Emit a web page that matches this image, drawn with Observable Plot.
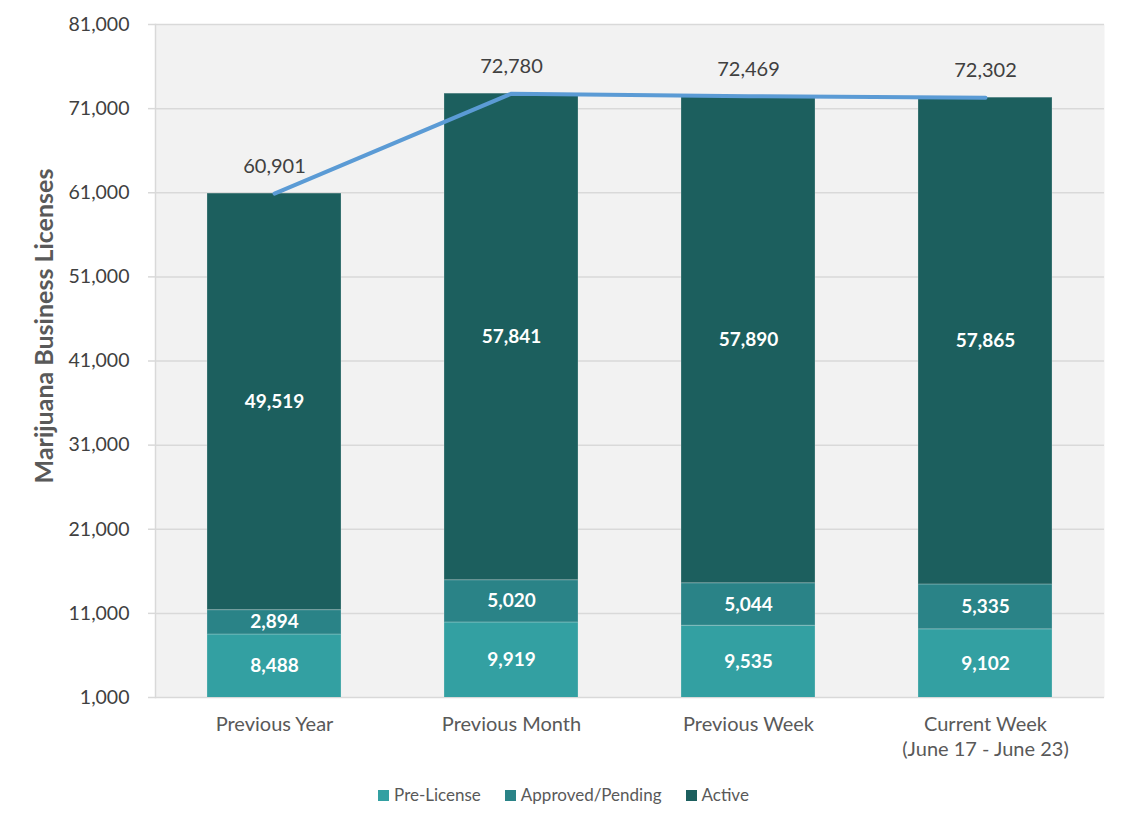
<!DOCTYPE html>
<html>
<head>
<meta charset="utf-8">
<script src="https://cdn.jsdelivr.net/npm/d3@7"></script>
<script src="https://cdn.jsdelivr.net/npm/@observablehq/plot@0.6"></script>
<style>
  body { margin: 0; background: #fff; font-family: Lato, "Open Sans", sans-serif; }
  #chart svg { display: block; }
  .legend { display: flex; justify-content: center; gap: 24px; font-size: 17px; color: #595959; margin-top: 22px; }
  .legend span.sw { display: inline-block; width: 11px; height: 11px; margin-right: 5px; vertical-align: middle; position: relative; top: -1px; }
</style>
</head>
<body>
<div id="chart"></div>
<div class="legend" id="legend"></div>
<script>
const categories = ["Previous Year", "Previous Month", "Previous Week", "Current Week"];
const categoryLabels = ["Previous Year", "Previous Month", "Previous Week", "Current Week\n(June 17 - June 23)"];
const series = ["Pre-License", "Approved/Pending", "Active"];
const preLicense = [8488, 9919, 9535, 9102];
const approvedPending = [2894, 5020, 5044, 5335];
const active = [49519, 57841, 57890, 57865];
const totals = [60901, 72780, 72469, 72302];
const yTicks = [1000, 11000, 21000, 31000, 41000, 51000, 61000, 71000, 81000];
const colors = ["#33a0a2", "#2a8387", "#1c5f5e"];

const yMin = 1000, yMax = 81000;
const values = [preLicense, approvedPending, active];
const segs = [];
categories.forEach((c, i) => {
  let base = 0;
  series.forEach((s, k) => {
    const v = values[k][i];
    const y1 = base, y2 = base + v;
    segs.push({cat: c, series: s, value: v, y1, y2, mid: (Math.max(y1, yMin) + y2) / 2});
    base = y2;
  });
});
const totalData = categories.map((c, i) => ({cat: c, total: totals[i]}));
const fmt = d3.format(",");

const plot = Plot.plot({
  width: 1127,
  height: 762,
  marginTop: 24,
  marginBottom: 65,
  marginLeft: 155,
  marginRight: 23,
  style: {fontFamily: "Lato, 'Open Sans', sans-serif"},
  x: {domain: categories, paddingInner: 0.436, paddingOuter: 0.218, axis: null},
  y: {domain: [yMin, yMax], axis: null},
  color: {domain: series, range: colors},
  marks: [
    Plot.frame({fill: "#f2f2f2", stroke: null}),
    Plot.gridY(yTicks, {stroke: "#d9d9d9", strokeOpacity: 1, strokeWidth: 1.5}),
    Plot.frame({anchor: "left", stroke: "#d9d9d9", strokeWidth: 1.5}),
    Plot.axisY({ticks: yTicks, tickSize: 7, tickPadding: 19, tickFormat: fmt, stroke: "#d9d9d9", strokeWidth: 1.5, fontSize: 19.5, fill: "#404040", label: null}),
    Plot.axisX({tickSize: 0, tickPadding: 16, fontSize: 20, lineHeight: 1.25, fill: "#595959", label: null,
      tickFormat: (d) => categoryLabels[categories.indexOf(d)]}),
    Plot.barY(segs, {x: "cat", y1: "y1", y2: "y2", fill: "series", clip: true, stroke: "#f2f2f2", strokeOpacity: 0.25, strokeWidth: 1}),
    Plot.text(segs, {x: "cat", y: "mid", text: (d) => fmt(d.value), fill: "white", fontSize: 19, fontWeight: "bold"}),
    Plot.line(totalData, {x: "cat", y: "total", stroke: "#5b9bd5", strokeWidth: 4}),
    Plot.text(totalData, {x: "cat", y: "total", text: (d) => fmt(d.total), fill: "#404040", fontSize: 20, dy: -27}),
    Plot.text(["Marijuana Business Licenses"], {frameAnchor: "left", textAnchor: "middle", text: (d) => d, rotate: -90, dx: -111, dy: -35, fontSize: 25, fontWeight: "bold", fill: "#595959"})
  ]
});
document.getElementById("chart").appendChild(plot);

const legend = document.getElementById("legend");
series.forEach((s, k) => {
  const item = document.createElement("div");
  item.innerHTML = `<span class="sw" style="background:${colors[k]}"></span>${s}`;
  legend.appendChild(item);
});
</script>
</body>
</html>
